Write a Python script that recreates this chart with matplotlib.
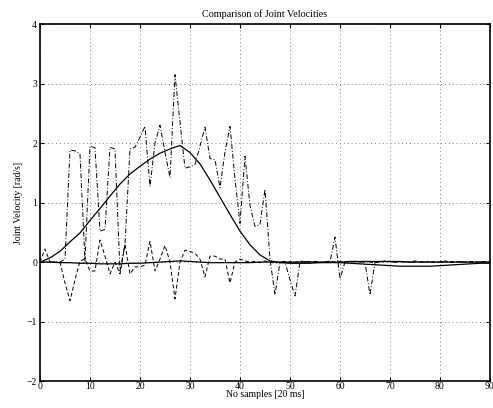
import matplotlib as mpl
mpl.use('Agg')
import matplotlib.pyplot as plt
import numpy as np

# sample index for the measured signals (one value per sample)
samples = np.arange(91)

# measured joint velocities [rad/s]
joint1_meas = [0.0, 0.0, 0.0, 0.0, 0.0, 0.05, 1.88, 1.87, 1.82, 0.02,
               1.95, 1.92, 0.52, 0.55, 1.93, 1.9, -0.15, 0.3, 1.9, 1.93,
               2.1, 2.28, 1.27, 2.0, 2.3, 1.85, 1.42, 3.15, 2.35, 1.58,
               1.6, 1.64, 1.95, 2.27, 1.74, 1.72, 1.25, 1.85, 2.28, 1.4,
               0.65, 1.78, 0.95, 0.6, 0.63, 1.22, 0.05, -0.55, 0.0, 0.0,
               -0.3, -0.57, 0.0, 0.01, 0.0, 0.01, 0.0, 0.0, 0.0, 0.42,
               -0.28, 0.0, 0.01, 0.0, 0.0, 0.0, -0.55, 0.0, 0.0, 0.01,
               0.0, 0.0, 0.01, 0.0, 0.0, 0.0, 0.01, 0.0, 0.0, 0.0,
               0.01, 0.0, 0.0, 0.0, 0.01, 0.0, 0.0, 0.0, 0.0, 0.01, 0.0]
joint2_meas = [0.0, 0.22, 0.0, 0.0, 0.0, -0.35, -0.65, -0.3, 0.02, 0.05,
               -0.15, -0.15, 0.37, 0.1, -0.2, 0.0, -0.2, 0.3, -0.2, -0.08,
               -0.08, -0.05, 0.35, -0.15, 0.05, 0.28, 0.0, -0.62, 0.0, 0.2,
               0.18, 0.15, 0.05, -0.25, 0.1, 0.1, 0.05, 0.05, -0.35, 0.0,
               0.05, 0.02, 0.0, 0.01, -0.01, 0.02, 0.0, -0.02, 0.0, 0.01,
               0.0, -0.01, 0.02, 0.0, 0.01, 0.0, -0.01, 0.0, 0.02, 0.0,
               0.01, 0.0, 0.0, 0.02, 0.0, 0.01, 0.0, -0.01, 0.0, 0.02,
               0.01, 0.0, 0.0, 0.01, 0.0, 0.02, 0.0, 0.0, 0.01, 0.0,
               0.0, 0.02, 0.0, 0.01, 0.0, 0.0, 0.01, 0.0, 0.0, 0.01, 0.0]

# reference (planned) velocities, read every 2 samples
ref_samples = np.arange(0, 91, 2)
joint1_ref = [0.0, 0.07, 0.18, 0.34, 0.49, 0.7, 0.9, 1.11, 1.31, 1.48,
              1.61, 1.73, 1.83, 1.9, 1.96, 1.84, 1.65, 1.38, 1.09, 0.8,
              0.52, 0.29, 0.12, 0.02, -0.01, -0.02, -0.02, -0.02, -0.01, -0.01,
              -0.01, -0.02, -0.03, -0.04, -0.05, -0.06, -0.07, -0.07, -0.07, -0.07,
              -0.06, -0.05, -0.04, -0.03, -0.02, -0.02]
joint2_ref = [0.0, 0.0, -0.01, -0.01, -0.02, -0.02, -0.03, -0.03, -0.03, -0.02,
              -0.02, -0.01, 0.0, 0.01, 0.02, 0.01, 0.0, -0.01, -0.01, -0.01,
              -0.01, -0.01, 0.0, 0.0, 0.0, 0.0, 0.0, 0.0, 0.0, 0.0,
              0.0, 0.01, 0.01, 0.01, 0.01, 0.01, 0.01, 0.0, 0.0, 0.0,
              0.0, 0.0, 0.0, 0.0, 0.0, 0.0]

x_ticks = np.arange(0, 91, 10)
y_ticks = np.arange(-2, 5, 1)

plt.rcParams['font.family'] = ['Liberation Serif', 'DejaVu Serif']
plt.rcParams['font.size'] = 7

fig = plt.figure(figsize=(4.93, 4.08), dpi=100)
ax = fig.add_axes([0.0811, 0.066, 0.9128, 0.875])

ax.plot(ref_samples, joint1_ref, color='k', linewidth=0.9, linestyle='-')
ax.plot(ref_samples, joint2_ref, color='k', linewidth=0.9, linestyle='-')
ax.plot(samples, joint1_meas, color='k', linewidth=0.7, linestyle=(0, (5, 2, 1, 2)))
ax.plot(samples, joint2_meas, color='k', linewidth=0.7, linestyle=(0, (4, 2.5)))

ax.set_xlim(0, 90)
ax.set_ylim(-2, 4)
ax.set_xticks(x_ticks)
ax.set_yticks(y_ticks)
ax.grid(True, linestyle=(0, (1, 3)), color='gray', linewidth=0.7)
ax.tick_params(direction='in', top=True, right=True, length=3, width=0.8)
ax.tick_params(axis='x', pad=1)
ax.tick_params(axis='y', pad=2)
for sp in ax.spines.values():
    sp.set_linewidth(1.2)

ax.set_title('Comparison of Joint Velocities', fontsize=7.3, pad=5)
ax.set_xlabel('No samples [20 ms]', fontsize=7, labelpad=-1)
ax.set_ylabel('Joint Velocity [rad/s]', fontsize=7, labelpad=3)

fig.savefig('out.png', dpi=100)
